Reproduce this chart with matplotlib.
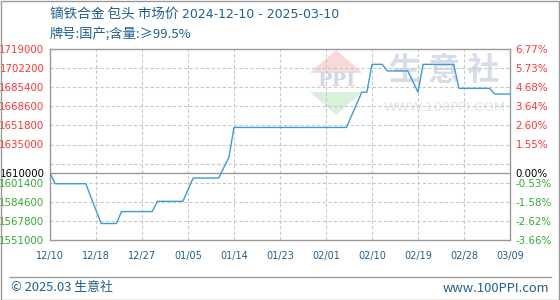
import numpy as np
import matplotlib.pyplot as plt
from matplotlib.patches import Polygon, Rectangle

plt.rcParams['font.family'] = ['Noto Sans CJK SC', 'DejaVu Sans']

# Données (jours depuis 2024-12-10, prix)
days = [0, 1, 7, 10, 13, 14, 20, 21, 26, 28, 33, 35, 36, 58, 61, 62, 63,
        65, 66, 70, 72, 73, 79, 80, 86, 87, 90]
prices = [1610000, 1600500, 1600500, 1565500, 1565500, 1576000, 1576000,
          1585000, 1585000, 1605500, 1605500, 1623700, 1650000, 1650000,
          1681000, 1681000, 1705500, 1705500, 1699700, 1699700, 1681000,
          1705500, 1705500, 1684400, 1684400, 1679400, 1679400]

x_labels = ["12/10", "12/18", "12/27", "01/05", "01/14", "01/23",
            "02/01", "02/10", "02/19", "02/28", "03/09"]
base = 1610000
y_min, y_max, y_step = 1551000, 1719000, 16800

title = "镝铁合金 包头 市场价"
title_dates = "2024-12-10 - 2025-03-10"
subtitle = "牌号:国产;含量:≥99.5%"

RED = "#ff3333"
GREEN = "#33aa33"
BLUE_TXT = "#1f5f8f"
GRID = "#c8c8c8"
FRAME = "#999999"

fig = plt.figure(figsize=(5.6, 3.0), dpi=100)
ax = fig.add_axes([50/560, 60/300, 460/560, 191/300])

# Filigrane (logo + texte)
ax.add_patch(Polygon([[0.622, 0.995], [0.565, 0.875], [0.679, 0.875]], closed=True,
                     transform=ax.transAxes, color="#f7d9d9", zorder=0, lw=0))
ax.add_patch(Polygon([[0.565, 0.775], [0.679, 0.775], [0.622, 0.655]], closed=True,
                     transform=ax.transAxes, color="#dbefdd", zorder=0, lw=0))
ax.text(0.622, 0.83, "PPI", transform=ax.transAxes, ha="center", va="center",
        fontsize=14, color="#d0d7e6", fontweight="bold", family="DejaVu Serif", zorder=0)
ax.text(0.857, 0.885, "生 意 社", transform=ax.transAxes, ha="center", va="center",
        fontsize=23, color="#d6dce8", fontweight="bold", zorder=0)
ax.text(0.857, 0.695, "WWW.100PPI.COM", transform=ax.transAxes, ha="center", va="center",
        fontsize=9.5, color="#e4e4e4", family="DejaVu Sans", zorder=0)

# Grille
x_grid = np.arange(0, 91, 9)
y_grid = np.arange(y_min, y_max + 1, y_step)
for xv in x_grid[1:-1]:
    ax.axvline(xv, color=GRID, lw=0.8, ls=(0, (3, 2)), zorder=1)
for yv in y_grid[1:-1]:
    ax.axhline(yv, color=GRID, lw=0.8, ls=(0, (3, 2)), zorder=1)
ax.axhline(base, color=FRAME, lw=1.0, zorder=2)

ax.plot(days, prices, color="#3d9ad6", lw=1.0, zorder=3)

ax.set_xlim(0, 90)
ax.set_ylim(y_min, y_max)
for sp in ax.spines.values():
    sp.set_color(FRAME)
    sp.set_linewidth(1.0)

# Axe gauche
ticks = sorted([v for v in y_grid if v != 1618200] + [base])
ax.set_yticks(ticks)
ax.set_yticklabels([str(int(v)) for v in ticks], family="DejaVu Sans", fontsize=7.4)
for lab, v in zip(ax.get_yticklabels(), ticks):
    lab.set_color("black" if v == base else (RED if v > base else GREEN))
ax.tick_params(axis="y", length=0, pad=4)

ax.set_xticks(x_grid)
ax.set_xticklabels(x_labels, family="DejaVu Sans", fontsize=7, color=BLUE_TXT)
ax.tick_params(axis="x", length=0, pad=8)

# Axe droit
ax2 = ax.twinx()
ax2.set_ylim(y_min, y_max)
ax2.set_yticks(ticks)
ax2.set_yticklabels([f"{(v / base - 1) * 100:.2f}%" for v in ticks],
                    family="DejaVu Sans", fontsize=7.4)
for lab, v in zip(ax2.get_yticklabels(), ticks):
    lab.set_color("black" if v == base else (RED if v > base else GREEN))
ax2.tick_params(axis="y", length=0, pad=4)
for sp in ax2.spines.values():
    sp.set_visible(False)

# Titres
fig.text(50/560, 1 - 15/300, title, ha="left", va="center", fontsize=9.8, color=BLUE_TXT)
fig.text(182/560, 1 - 15/300, title_dates, ha="left", va="center", fontsize=9,
         color=BLUE_TXT, family="DejaVu Sans")
fig.text(50/560, 1 - 34/300, subtitle, ha="left", va="center", fontsize=9.5, color=BLUE_TXT)

# Pied de page
fig.add_artist(plt.Line2D([10/560, 551/560], [1 - 277/300, 1 - 277/300],
                          color=FRAME, lw=1.0, transform=fig.transFigure))
fig.text(11/560, 1 - 288/300, "© 2025.03 生意社", ha="left", va="center",
         fontsize=9.3, color=BLUE_TXT)
fig.text(549/560, 1 - 288/300, "www.100PPI.com", ha="right", va="center",
         fontsize=9.3, color=BLUE_TXT)

fig.add_artist(Rectangle((0.5/560, 0.5/300), 558.5/560, 298.5/300, fill=False,
                         edgecolor=FRAME, lw=1.0, transform=fig.transFigure))

fig.savefig("out.png", dpi=100)
